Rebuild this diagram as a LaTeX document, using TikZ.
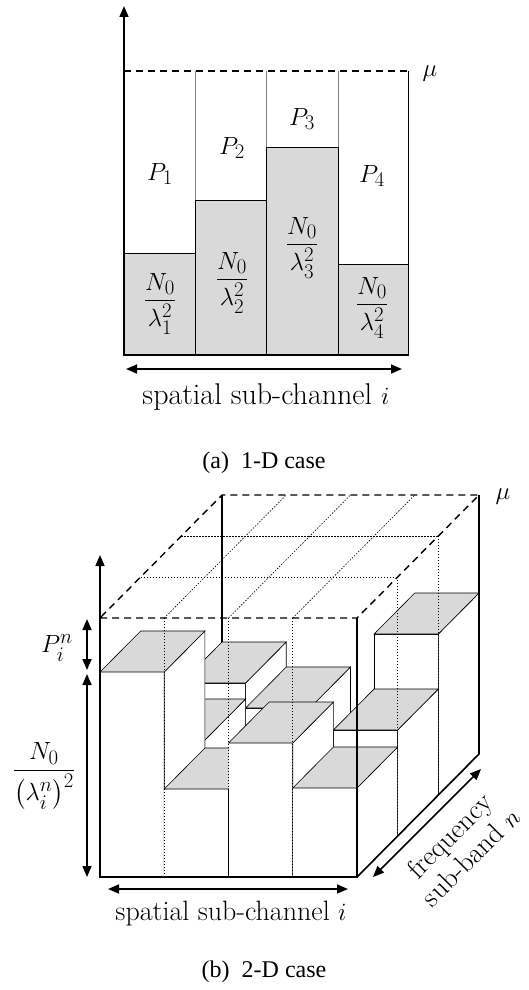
\documentclass[tikz,border=0pt]{standalone}
\usepackage{fontspec}
\usepackage{amsmath}
\usetikzlibrary{arrows.meta}
\newfontfamily\capfont{Liberation Serif}
\definecolor{noiseGray}{HTML}{D9D9D9}
\definecolor{sepGray}  {HTML}{808080}
\tikzset{
  axis/.style={line width=1.6pt},
  uparrow/.style={-{Triangle[length=11pt,width=9pt]},line width=1.6pt},
  dblarrow/.style={{Triangle[length=11pt,width=9pt]}-{Triangle[length=11pt,width=9pt]},line width=1.6pt},
  waterline/.style={dash pattern=on 7pt off 5pt,line width=1.4pt},
  gridline/.style={dash pattern=on 1.5pt off 1.5pt,line width=.6pt},
  face/.style={fill=white,draw=black,line width=.6pt},
  noisetop/.style={fill=noiseGray,draw=black,line width=.6pt},
  lblA/.style={font=\fontsize{30}{34}\selectfont},
  lblB/.style={font=\fontsize{28}{30}\selectfont},
  caption/.style={font=\capfont\fontsize{24}{28}\selectfont},
}
% one block of the 2-D picture: channel #2, sub-band #3, noise level #4
\newcommand{\cuboid}[4][face]{%
  \path[#1] (#2,#3,0) -- ({#2+1},#3,0) -- ({#2+1},#3,#4) -- (#2,#3,#4) -- cycle;
  \filldraw[face] ({#2+1},#3,0) -- ({#2+1},{#3+1},0) -- ({#2+1},{#3+1},#4) -- ({#2+1},#3,#4) -- cycle;
  \filldraw[noisetop] (#2,#3,#4) -- ({#2+1},#3,#4) -- ({#2+1},{#3+1},#4) -- (#2,{#3+1},#4) -- cycle;
}

\begin{document}
\begin{tikzpicture}[x=1pt,y=-1pt]
\useasboundingbox (0,0) rectangle (528,990);

% (a) 1-D case
\foreach \xl/\xr/\ytop in {124/195/253,195/266/200,266/338/147,338/408/264}
  \filldraw[noisetop] (\xl,355) rectangle (\xr,\ytop);
\draw[sepGray,line width=.8pt] (195,200) -- (195,71) (266,147) -- (266,71) (338,147) -- (338,71);
\draw[line width=1pt] (408,264) -- (408,71);
\draw[waterline] (124,71) -- (408,71);
\draw[axis] (124,355) -- (408,355);
\draw[uparrow] (124,356) -- (124,6);
\draw[dblarrow] (126,369) -- (402,369);

\node[lblA] (p1) at (160,174) {$P_1$};
\node[lblA] (p2) at (232,148) {$P_2$};
\node[lblA] (p3) at (302,119) {$P_3$};
\node[lblA] (p4) at (372,176) {$P_4$};
\node[lblA] (n1) at (160,304) {$\dfrac{N_0}{\lambda_1^2}$};
\node[lblA] (n2) at (232,283) {$\dfrac{N_0}{\lambda_2^2}$};
\node[lblA] (n3) at (302,248) {$\dfrac{N_0}{\lambda_3^2}$};
\node[lblA] (n4) at (372,308) {$\dfrac{N_0}{\lambda_4^2}$};
\node[lblA] (muA) at (430,74) {$\mu$};
\node[lblA,anchor=base] (spatA) at (266,404) {spatial sub-channel $i$};
\node[caption] (capA) at (264,463) {(a)~ 1-D case};

% (b) 2-D case
\begin{scope}[shift={(100,877)},x={(64.25pt,0pt)},y={(40.67pt,41pt)},z={(0pt,1pt)}]
  \draw[axis] (0,3,0) -- (0,3,259);
  % back row, middle row, front row
  \cuboid{0}{2}{112} \cuboid{1}{2}{87} \cuboid{2}{2}{30} \cuboid{3}{2}{161}
  \cuboid{0}{1}{96}  \cuboid{1}{1}{40} \cuboid{2}{1}{50} \cuboid{3}{1}{106}
  \cuboid[fill=white]{0}{0}{205} \cuboid[fill=white]{1}{0}{88}
  \cuboid[fill=white]{2}{0}{134} \cuboid[fill=white]{3}{0}{89}
  % water level box
  \foreach \e in {1,2} {
    \draw[gridline] (0,\e,259) -- (4,\e,259);
    \draw[gridline] (4,\e,0) -- (4,\e,259);
  }
  \foreach \c in {1,2,3} {
    \draw[gridline] (\c,0,259) -- (\c,3,259);
    \draw[gridline] (\c,0,0) -- (\c,0,259);
  }
  \draw[waterline] (0,0,259) -- (4,0,259) -- (4,3,259) -- (0,3,259) -- cycle;
  \draw[axis] (4,0,259) -- (4,0,0) -- (0,0,0);
  \draw[axis] (4,0,0) -- (4,3,0) -- (4,3,259);
  \draw[uparrow] (0,0,-1) -- (0,0,322);
\end{scope}

\draw[dblarrow] (87,619) -- (87,670);
\draw[dblarrow] (87,674) -- (87,877);
\draw[dblarrow] (108,889) -- (348,889);
\draw[dblarrow] (373,877) -- (481,769);

\node[lblB] (muB) at (503,497) {$\mu$};
\node[lblB] (pin) at (57,648) {$P_i^n$};
\node[lblB] (nin) at (44,776) {$\dfrac{N_0}{\left(\lambda_i^n\right)^2}$};
\node[lblB,anchor=base] (spatB) at (231,920) {spatial sub-channel $i$};
\node[lblB,rotate=45,align=center] (freq) at (460,846) {frequency\\sub-band $n$};
\node[caption] (capB) at (264,972) {(b)~ 2-D case};
\end{tikzpicture}
\end{document}
